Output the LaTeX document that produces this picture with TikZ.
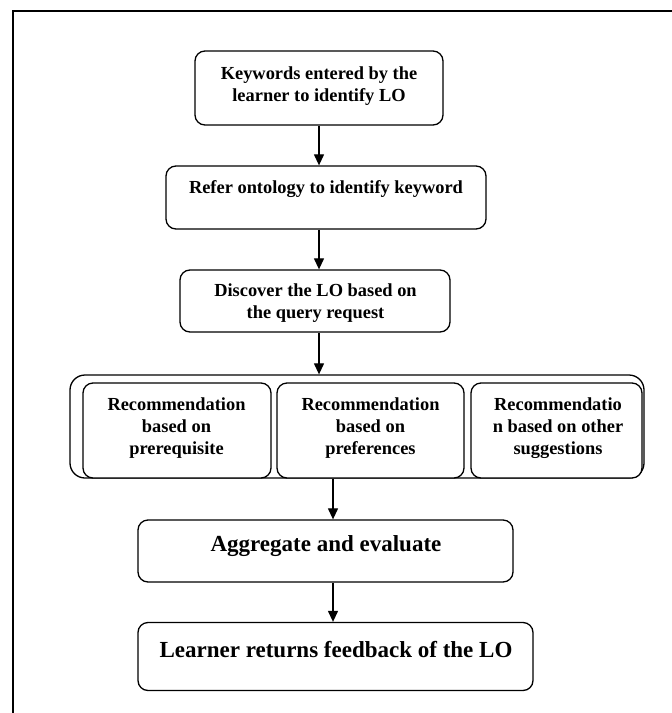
\documentclass[tikz,border=0pt]{standalone}
\usepackage{fontspec}
\setmainfont{Liberation Serif}
\usetikzlibrary{arrows.meta}
\tikzset{
  box/.style={draw, line width=1.3pt, rounded corners=10pt, inner sep=0pt, fill=white},
  group/.style={draw, line width=1.3pt, rounded corners=15pt, inner sep=0pt},
  txt/.style={align=center, inner sep=0pt, font=\bfseries\fontsize{18.4}{22}\selectfont},
  bigtxt/.style={align=center, inner sep=0pt, font=\bfseries\fontsize{23}{27}\selectfont},
  flow/.style={line width=1.2pt, -{Triangle[length=11pt,width=10pt]}}
}
\begin{document}
\begin{tikzpicture}[x=1pt,y=-1pt]
\useasboundingbox (0,0) rectangle (672,713);
\begin{scope}
\clip (0,0) rectangle (672,713);
\draw[line width=2pt] (13,730) -- (13,11) -- (690,11);
\end{scope}

% process boxes
\node[box, minimum width=248pt, minimum height=74pt] (kw) at (319,88) {};
\node[box, minimum width=320pt, minimum height=63pt] (ont) at (326,197.5) {};
\node[box, minimum width=270pt, minimum height=62pt] (disc) at (315,301) {};

% recommendation group
\node[group, minimum width=574pt, minimum height=103pt] (rec) at (357,426.5) {};
\node[box, minimum width=188pt, minimum height=95pt] (recA) at (177,430.5) {};
\node[box, minimum width=187pt, minimum height=95pt] (recB) at (370.5,430.5) {};
\node[box, minimum width=171pt, minimum height=95pt] (recC) at (556.5,430.5) {};

\node[box, minimum width=375pt, minimum height=62pt] (agg) at (325.5,551) {};
\node[box, minimum width=395pt, minimum height=68pt] (fb) at (335.5,656.5) {};

% labels
\node[txt] (kwt) at (319,86) {Keywords entered by the\\learner to identify LO};
\node[txt] (ontt) at (326,189) {Refer ontology to identify keyword};
\node[txt] (disct) at (315.5,303.5) {Discover the LO based on\\the query request};
\node[txt] (recAt) at (176.5,428.5) {Recommendation\\based on\\prerequisite};
\node[txt] (recBt) at (370.5,428.5) {Recommendation\\based on\\preferences};
\node[txt] (recCt) at (558,428.5) {Recommendatio\\n based on other\\suggestions};
\node[bigtxt] (aggt) at (326,546) {Aggregate and evaluate};
\node[bigtxt] (fbt) at (336,650) {Learner returns feedback of the LO};

% connectors
\coordinate (spine) at (319,0);
\coordinate (spineB) at (333,0);
\draw[flow] (spine |- kw.south) -- (spine |- ont.north);
\draw[flow] (spine |- ont.south) -- (spine |- disc.north);
\draw[flow] (spine |- disc.south) -- (spine |- rec.north);
\draw[flow] (spineB |- recB.south) -- (spineB |- agg.north);
\draw[flow] (spineB |- agg.south) -- (spineB |- fb.north);
\end{tikzpicture}
\end{document}
